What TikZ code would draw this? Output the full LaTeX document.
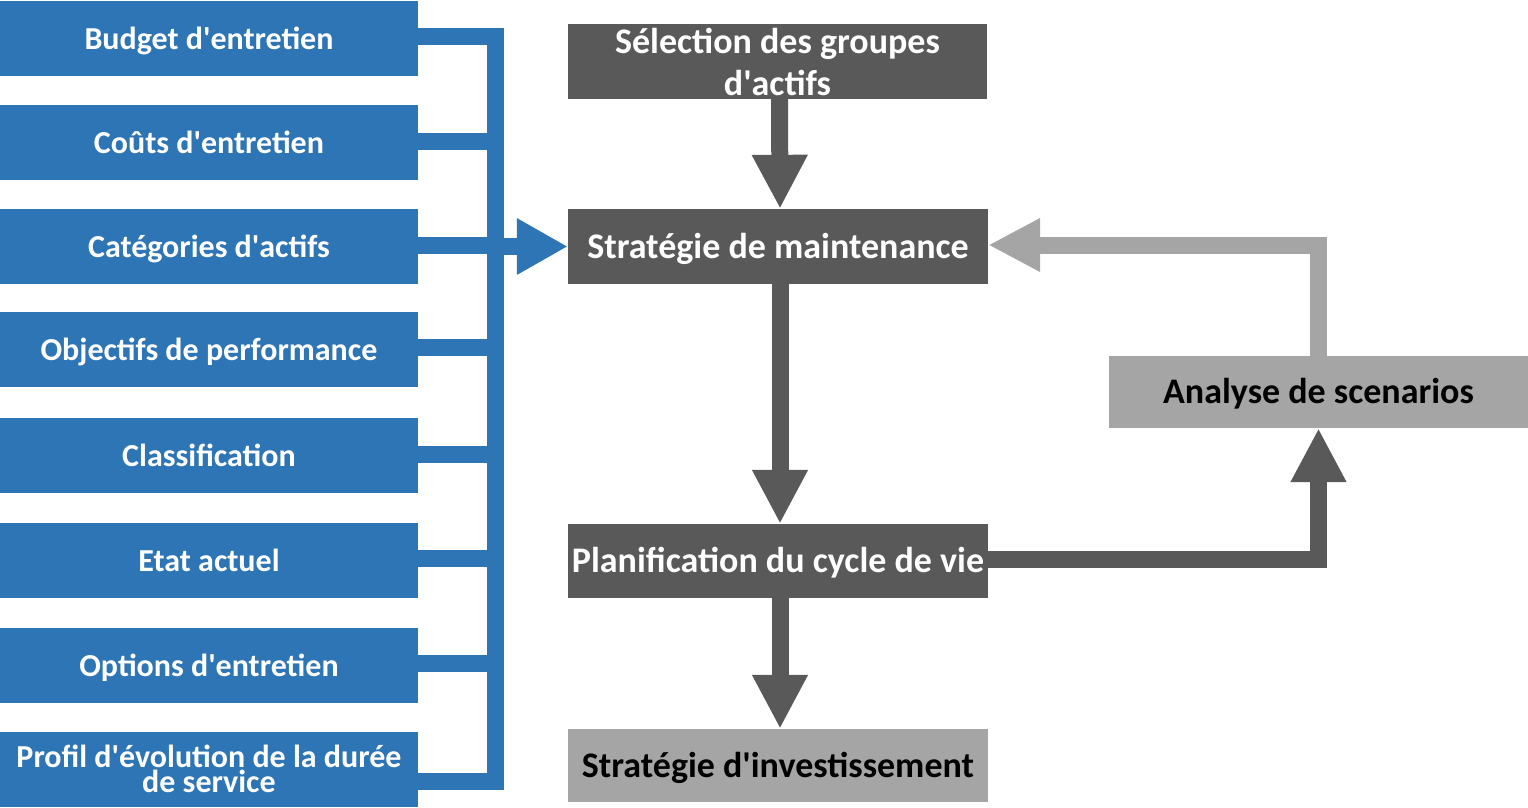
\documentclass[tikz,border=0pt]{standalone}
\usepackage{fontspec}
\setmainfont{Carlito}
\usetikzlibrary{arrows.meta,calc}
\definecolor{cblue}{HTML}{2E75B6}
\definecolor{cdark}{HTML}{595959}
\definecolor{clight}{HTML}{A5A5A5}
\newcommand\ap{\textquotesingle}
\begin{document}
\begin{tikzpicture}[x=1pt,y=-1pt,
  every node/.style={inner sep=0pt, font=\fontsize{36}{36}\selectfont\bfseries},
  bluebox/.style={fill=cblue, text=white, minimum width=418pt, minimum height=75pt, align=center, font=\fontsize{32}{32}\selectfont\bfseries},
  oneb/.style={text height=25pt, text depth=3pt},
  onec/.style={text height=27pt, text depth=4pt},
  darkbox/.style={fill=cdark, text=white, minimum width=420pt, minimum height=75pt, align=center},
  lightbox/.style={fill=clight, text=black, minimum width=420pt, minimum height=73pt, align=center},
  busline/.style={draw=cblue, line width=17pt, line join=miter},
  bluearr/.style={draw=cblue, line width=17pt, -{Triangle[length=51pt,width=53pt]}},
  darr/.style={draw=cdark, line width=17pt, line join=miter, -{Triangle[length=54pt,width=52pt]}},
  larr/.style={draw=clight, line width=17pt, line join=miter, -{Triangle[length=52pt,width=50pt]}}]
\useasboundingbox (0,0) rectangle (1528,807);
% left column
\node[bluebox, oneb] (b1) at (209,38) {Budget d\ap entretien};
\node[bluebox, oneb] (b2) at (209,142.5) {Coûts d\ap entretien};
\node[bluebox, oneb] (b3) at (209,246.5) {Catégories d\ap actifs};
\node[bluebox, oneb] (b4) at (209,349) {Objectifs de performance};
\node[bluebox, oneb] (b5) at (209,455.5) {Classification};
\node[bluebox, oneb] (b6) at (209,560) {Etat actuel};
\node[bluebox, oneb] (b7) at (209,665) {Options d\ap entretien};
\node[bluebox, font=\fontsize{32}{25}\selectfont\bfseries] (b8) at (209,769) {Profil d\ap évolution de la durée\\de service};
% center column
\node[darkbox, minimum width=419pt, font=\fontsize{36}{42}\selectfont\bfseries] (sel) at (777.5,61.5) {Sélection des groupes\\d\ap actifs};
\node[darkbox, onec] (strat) at (778,246.5) {Stratégie de maintenance};
\node[darkbox, onec, minimum height=74pt] (plan) at (778,561) {Planification du cycle de vie};
\node[lightbox, onec] (inv) at (778,765.5) {Stratégie d\ap investissement};
\node[lightbox, onec, minimum width=419pt, minimum height=72pt] (ana) at (1318.5,392) {Analyse de scenarios};
% bus
\coordinate (bb) at (495.5,781.5);
\draw[busline] ([yshift=2pt]b1.east) -| (bb) -- (bb -| b8.east);
\foreach \k in {2,...,7} {\draw[busline] ([yshift=1.5pt]b\k.east) -- ([yshift=1.5pt]b\k.east -| bb);}
\draw[bluearr] (b3.east -| bb) -- (strat.west);
% gray arrows
\draw[darr] ([xshift=2pt]sel.south) -- ([xshift=2pt]strat.north);
\draw[darr] ([xshift=2pt]strat.south) -- ([xshift=2pt]plan.north);
\draw[darr] ([xshift=2pt]plan.south) -- ([xshift=2pt]inv.north);
\draw[darr] ([yshift=2pt]plan.east) -| (ana.south);
\draw[larr] (ana.north) |- ([yshift=1.5pt]strat.east);
\end{tikzpicture}
\end{document}
